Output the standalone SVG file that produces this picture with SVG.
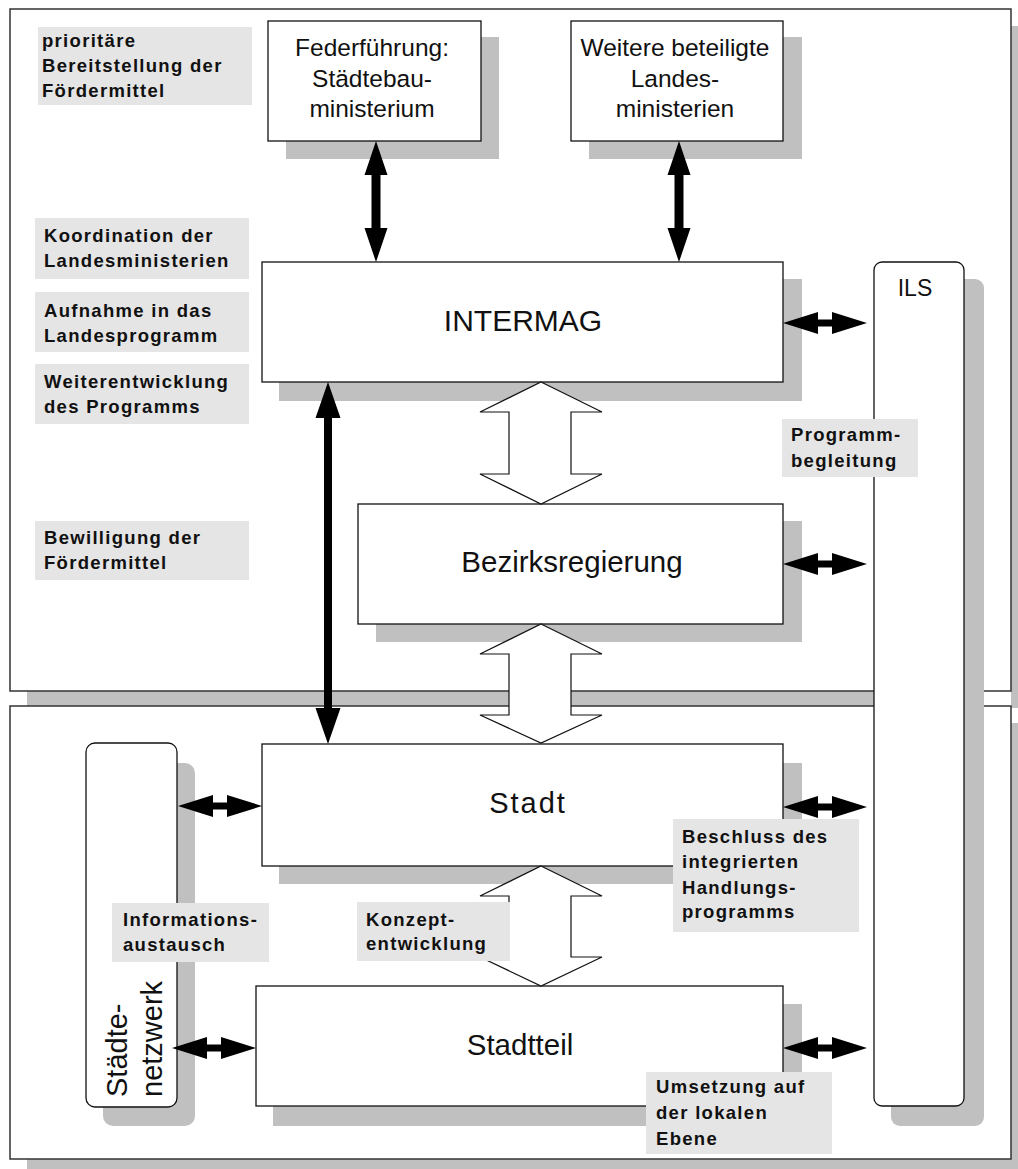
<svg xmlns="http://www.w3.org/2000/svg" width="1018" height="1169" viewBox="0 0 1018 1169">
<style>
.frame{fill:#fff;stroke:#333;stroke-width:1.5}
.shadow{fill:#c0c0c0}
.box{fill:#fff;stroke:#111;stroke-width:1.3}
.nt{font-family:"Liberation Sans",Arial,sans-serif;fill:#111;text-anchor:middle}
.lbl{fill:#e5e5e5}
.lt{font-family:"Liberation Sans",Arial,sans-serif;font-weight:bold;font-size:18.5px;letter-spacing:1.3px;fill:#111}
.hollow{fill:#fff;stroke:#111;stroke-width:1.2}
.solid{fill:#000}
</style>
<defs>
<path id="harrow" d="M0,0 L35,-11 L35,-3.5 L49,-3.5 L49,-11 L84,0 L49,11 L49,3.5 L35,3.5 L35,11 Z"/>
</defs>
<rect width="1018" height="1169" fill="#fff"/>

<g id="frames">
  <rect class="shadow" x="1011" y="26" width="7" height="682"/>
  <rect class="shadow" x="27" y="691" width="847" height="17"/>
  <rect class="frame" x="10" y="9" width="1001" height="682"/>
  <rect class="shadow" x="27" y="723" width="991" height="446"/>
  <rect class="frame" x="10" y="706" width="1001" height="453"/>
</g>

<g id="federfuehrung">
  <rect class="shadow" x="286" y="37" width="213" height="122"/>
  <rect class="box" x="268" y="21" width="213" height="120"/>
  <text class="nt" font-size="24.5"><tspan x="372" y="56">Federführung:</tspan><tspan x="372" y="87">Städtebau-</tspan><tspan x="372" y="117">ministerium</tspan></text>
</g>

<g id="weitere">
  <rect class="shadow" x="589" y="37" width="213" height="122"/>
  <rect class="box" x="571" y="21" width="212" height="120"/>
  <text class="nt" font-size="24.5"><tspan x="675" y="56">Weitere beteiligte</tspan><tspan x="675" y="87">Landes-</tspan><tspan x="675" y="117">ministerien</tspan></text>
</g>

<g id="intermag">
  <rect class="shadow" x="279" y="279" width="523" height="122"/>
  <rect class="box" x="262" y="262" width="521" height="120"/>
  <text class="nt" font-size="30" x="523" y="331">INTERMAG</text>
</g>

<g id="bezirksregierung">
  <rect class="shadow" x="376" y="521" width="426" height="121"/>
  <rect class="box" x="358" y="504" width="425" height="120"/>
  <text class="nt" font-size="29.5" x="572" y="572">Bezirksregierung</text>
</g>

<g id="stadt">
  <rect class="shadow" x="279" y="763" width="523" height="121"/>
  <rect class="box" x="262" y="744" width="521" height="122"/>
  <text class="nt" font-size="29" letter-spacing="2" x="528" y="813">Stadt</text>
</g>

<g id="stadtteil">
  <rect class="shadow" x="273" y="1004" width="529" height="122"/>
  <rect class="box" x="256" y="986" width="527" height="120"/>
  <text class="nt" font-size="29.5" x="520" y="1055">Stadtteil</text>
</g>

<g id="ils">
  <rect class="shadow" x="891" y="279" width="93" height="847" rx="9"/>
  <rect class="box" x="874" y="262" width="90" height="844" rx="8"/>
  <text class="nt" font-size="23" x="915" y="296">ILS</text>
</g>

<g id="staedtenetzwerk">
  <rect class="shadow" x="103" y="763" width="92" height="363" rx="10"/>
  <rect class="box" x="86" y="743" width="91" height="364" rx="9"/>
  <text font-family="Liberation Sans, Arial, sans-serif" font-size="29" fill="#111" transform="translate(127,1097) rotate(-90)">Städte-</text>
  <text font-family="Liberation Sans, Arial, sans-serif" font-size="29" fill="#111" transform="translate(162,1097) rotate(-90)">netzwerk</text>
</g>

<g id="connectors">
  <path class="solid" d="M376,141 L387.5,175 L380.5,175 L380.5,228 L387.5,228 L376,262 L364.5,228 L371.5,228 L371.5,175 L364.5,175 Z"/>
  <path class="solid" d="M679,141 L690.5,175 L683.5,175 L683.5,228 L690.5,228 L679,262 L667.5,228 L674.5,228 L674.5,175 L667.5,175 Z"/>
  <path class="solid" d="M328,382 L340.5,418 L332,418 L332,708 L340.5,708 L328,744 L315.5,708 L324,708 L324,418 L315.5,418 Z"/>
  <path class="hollow" d="M541,382 L602,412 L571,412 L571,474 L602,474 L541,504 L480,474 L509,474 L509,412 L480,412 Z"/>
  <path class="hollow" d="M541,624 L602,654 L571,654 L571,715 L602,715 L541,743 L480,715 L509,715 L509,654 L480,654 Z"/>
  <path class="hollow" d="M541,866 L602,896 L571,896 L571,957 L602,957 L541,986 L480,957 L509,957 L509,896 L480,896 Z"/>
  <use href="#harrow" transform="translate(783,323)"/>
  <use href="#harrow" transform="translate(783,564)"/>
  <use href="#harrow" transform="translate(783,807)"/>
  <use href="#harrow" transform="translate(783,1048)"/>
  <use href="#harrow" transform="translate(178,806)"/>
  <use href="#harrow" transform="translate(172,1048)"/>
</g>

<g id="label-prioritaere">
  <rect class="lbl" x="38" y="27" width="214" height="78"/>
  <text class="lt"><tspan x="42" y="47">prioritäre</tspan><tspan x="42" y="72">Bereitstellung der</tspan><tspan x="42" y="97">Fördermittel</tspan></text>
</g>
<g id="label-koordination">
  <rect class="lbl" x="35" y="218" width="214" height="61"/>
  <text class="lt"><tspan x="44" y="242">Koordination der</tspan><tspan x="44" y="267">Landesministerien</tspan></text>
</g>
<g id="label-aufnahme">
  <rect class="lbl" x="35" y="292" width="214" height="60"/>
  <text class="lt"><tspan x="44" y="317">Aufnahme in das</tspan><tspan x="44" y="342">Landesprogramm</tspan></text>
</g>
<g id="label-weiterentwicklung">
  <rect class="lbl" x="35" y="364" width="214" height="60"/>
  <text class="lt"><tspan x="44" y="388">Weiterentwicklung</tspan><tspan x="44" y="413">des Programms</tspan></text>
</g>
<g id="label-bewilligung">
  <rect class="lbl" x="35" y="521" width="214" height="59"/>
  <text class="lt"><tspan x="44" y="544">Bewilligung der</tspan><tspan x="44" y="569">Fördermittel</tspan></text>
</g>
<g id="label-programmbegleitung">
  <rect class="lbl" x="782" y="419" width="136" height="58"/>
  <text class="lt"><tspan x="791" y="441">Programm-</tspan><tspan x="791" y="467">begleitung</tspan></text>
</g>
<g id="label-beschluss">
  <rect class="lbl" x="673" y="819" width="186" height="113"/>
  <text class="lt"><tspan x="682" y="843">Beschluss des</tspan><tspan x="682" y="868">integrierten</tspan><tspan x="682" y="894">Handlungs-</tspan><tspan x="682" y="918">programms</tspan></text>
</g>
<g id="label-umsetzung">
  <rect class="lbl" x="646" y="1072" width="186" height="82"/>
  <text class="lt"><tspan x="656" y="1093">Umsetzung auf</tspan><tspan x="656" y="1119">der lokalen</tspan><tspan x="656" y="1145">Ebene</tspan></text>
</g>
<g id="label-informationsaustausch">
  <rect class="lbl" x="112" y="903" width="157" height="59"/>
  <text class="lt"><tspan x="123" y="926">Informations-</tspan><tspan x="123" y="951">austausch</tspan></text>
</g>
<g id="label-konzeptentwicklung">
  <rect class="lbl" x="357" y="902" width="153" height="59"/>
  <text class="lt"><tspan x="366" y="926">Konzept-</tspan><tspan x="366" y="950">entwicklung</tspan></text>
</g>
</svg>
